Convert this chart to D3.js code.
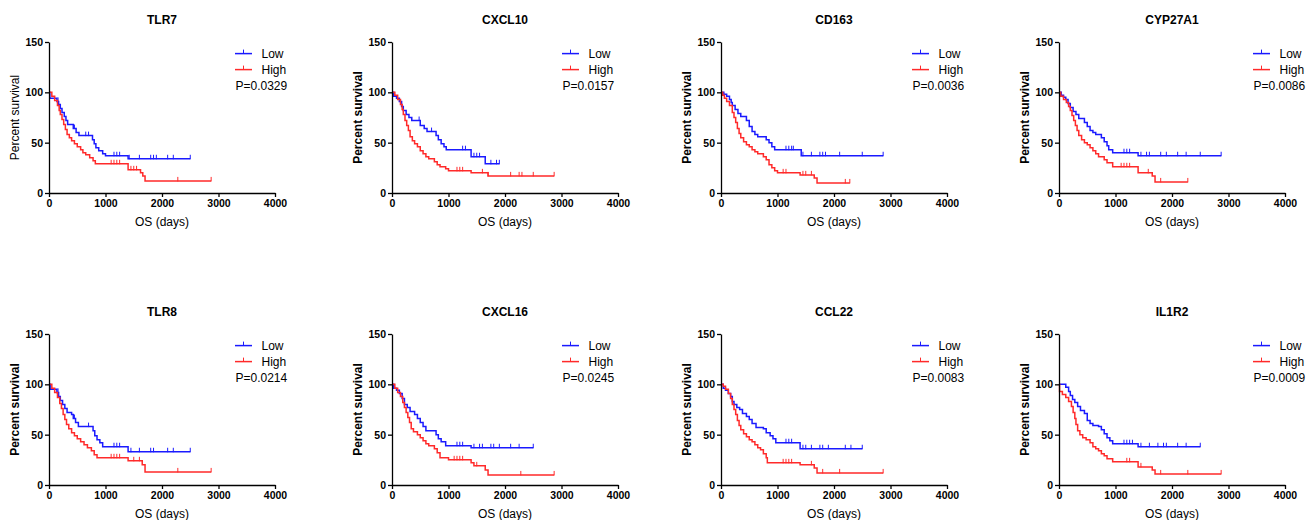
<!DOCTYPE html>
<html>
<head>
<meta charset="utf-8">
<script src="https://cdn.jsdelivr.net/npm/d3@7"></script>
<style>
  body { margin: 0; background: #fff; }
  text { font-family: Arial, "Liberation Sans", sans-serif; fill: #000; }
</style>
</head>
<body>
<svg width="1314" height="520"></svg>
<script>
// Panel titles, p values and axis ticks
var genes = ["TLR7", "CXCL10", "CD163", "CYP27A1", "TLR8", "CXCL16", "CCL22", "IL1R2"]
var pLabels = ["P=0.0329", "P=0.0157", "P=0.0036", "P=0.0086", "P=0.0214", "P=0.0245", "P=0.0083", "P=0.0009"]
var groups = ["Low", "High"]
var xTicks = [0, 1000, 2000, 3000, 4000]
var yTicks = [0, 50, 100, 150]

// Kaplan-Meier steps [days, percent survival]
var tlr7Low = [[0,100],[15,94],[140,91],[170,88],[200,84],[230,80],[270,76],[300,72],[330,68],[400,68],[430,64],[480,60],[530,57],[750,57],[770,53],[800,49],[830,45],[880,42],[950,39],[1000,37],[1400,34],[2500,34]]
var tlr7High = [[0,100],[50,96],[100,92],[150,87],[180,82],[200,78],[230,73],[260,68],[290,63],[320,58],[360,55],[400,52],[450,49],[500,46],[560,43],[600,40],[650,38],[720,35],[780,32],[820,29],[1400,23],[1620,20],[1660,17],[1700,12],[2870,12]]
var tlr7LowCens = [160, 450, 650, 700, 1150, 1200, 1250, 1420, 1600, 1800, 1850, 1900, 2100, 2200, 2500]
var tlr7HighCens = [1100, 1150, 1200, 1250, 1450, 1500, 1550, 2280, 2870]

var cxcl10Low = [[0,100],[30,96],[80,94],[130,91],[170,86],[200,82],[250,78],[300,75],[350,72],[450,72],[500,67],[570,64],[620,61],[750,61],[780,57],[820,53],[870,49],[920,46],[960,43],[1400,36],[1650,29],[1900,29]]
var cxcl10High = [[0,100],[50,97],[100,93],[150,88],[180,83],[200,78],[230,72],[260,67],[290,62],[320,56],[360,52],[400,49],[450,46],[500,42],[550,39],[600,36],[650,34],[750,31],[800,28],[850,26],[950,24],[1000,22],[1400,20],[1700,17],[2870,17]]
var cxcl10LowCens = [480, 700, 1250, 1300, 1450, 1500, 1550, 1750, 1850, 1900]
var cxcl10HighCens = [1150, 1200, 1250, 1600, 1700, 2100, 2250, 2300, 2500, 2870]

var cd163Low = [[0,100],[50,98],[100,96],[150,93],[180,90],[200,87],[250,83],[300,79],[350,76],[450,72],[500,66],[550,61],[600,58],[650,56],[800,53],[850,50],[900,46],[950,43],[1420,37],[2870,37]]
var cd163High = [[0,100],[30,97],[60,94],[100,91],[150,87],[200,80],[230,75],[260,70],[290,64],[320,59],[350,55],[400,51],[450,48],[500,46],[550,43],[600,41],[650,39],[750,36],[800,33],[850,28],[900,25],[950,22],[1000,20],[1400,18],[1650,15],[1700,10],[2280,10]]
var cd163LowCens = [1150, 1200, 1250, 1280, 1450, 1600, 1750, 1800, 1850, 2100, 2500, 2870]
var cd163HighCens = [1100, 1150, 1450, 1500, 1600, 2200, 2280]

var cyp27a1Low = [[0,100],[40,97],[80,95],[120,93],[160,89],[200,85],[250,81],[300,78],[350,74],[450,70],[500,66],[550,62],[600,60],[650,58],[750,55],[800,51],[850,47],[880,43],[950,40],[1400,37],[2870,37]]
var cyp27a1High = [[0,100],[30,96],[80,93],[130,90],[170,86],[200,82],[230,77],[260,72],[290,67],[320,62],[350,57],[400,53],[450,50],[500,48],[550,45],[600,42],[650,39],[700,36],[800,33],[850,30],[950,26],[1400,20],[1650,17],[1700,11],[2280,11]]
var cyp27a1LowCens = [1150, 1200, 1250, 1450, 1550, 1600, 1800, 1900, 2100, 2250, 2500, 2870]
var cyp27a1HighCens = [1100, 1150, 1200, 1250, 1580, 1800, 2280]

var tlr8Low = [[0,100],[20,95],[140,92],[170,88],[200,84],[240,80],[280,76],[320,72],[400,70],[430,66],[470,62],[520,58],[750,58],[780,54],[810,49],[850,45],[900,42],[950,38],[1400,33],[2500,33]]
var tlr8High = [[0,100],[50,96],[100,92],[150,87],[190,81],[220,76],[250,70],[280,65],[310,60],[350,56],[400,52],[450,49],[500,46],[560,43],[620,40],[680,37],[750,34],[800,30],[850,27],[1400,24],[1650,20],[1700,13],[2870,13]]
var tlr8LowCens = [160, 450, 700, 1150, 1200, 1250, 1450, 1600, 1800, 1850, 2100, 2200, 2500]
var tlr8HighCens = [1100, 1150, 1200, 1250, 1500, 1600, 2280, 2870]

var cxcl16Low = [[0,100],[30,96],[80,94],[130,91],[180,86],[220,80],[270,77],[320,73],[400,70],[450,66],[500,62],[550,58],[600,54],[750,54],[780,50],[820,46],[870,43],[950,39],[1400,37],[2500,37]]
var cxcl16High = [[0,100],[50,96],[100,92],[150,88],[190,82],[220,77],[250,72],[280,67],[310,62],[340,56],[380,53],[450,50],[500,47],[550,44],[600,41],[650,39],[750,36],[800,32],[850,27],[1000,25],[1400,22],[1450,19],[1650,15],[1700,10],[2870,10]]
var cxcl16LowCens = [1150, 1200, 1250, 1450, 1550, 1600, 1750, 1800, 1900, 2100, 2250, 2500]
var cxcl16HighCens = [1100, 1150, 1200, 1250, 1500, 2280, 2870]

var ccl22Low = [[0,100],[40,96],[80,94],[130,91],[170,88],[200,83],[230,80],[280,77],[330,75],[380,71],[450,68],[500,65],[550,61],[620,57],[750,56],[800,52],[870,49],[920,46],[970,42],[1400,36],[2500,36]]
var ccl22High = [[0,100],[40,98],[80,95],[130,91],[170,86],[200,80],[230,75],[260,70],[290,64],[320,59],[350,55],[400,51],[450,48],[500,45],[550,43],[600,40],[650,37],[700,35],[750,31],[800,27],[820,22],[1400,20],[1650,17],[1700,12],[2870,12]]
var ccl22LowCens = [1150, 1200, 1250, 1450, 1500, 1600, 1750, 1800, 1900, 2200, 2300, 2500]
var ccl22HighCens = [1100, 1150, 1200, 1250, 1600, 1800, 2100, 2870]

var il1r2Low = [[0,100],[120,97],[170,93],[200,89],[240,85],[280,82],[330,78],[380,74],[450,71],[500,64],[550,61],[600,59],[700,58],[750,55],[800,51],[850,47],[900,44],[950,41],[1400,38],[2500,38]]
var il1r2High = [[0,100],[10,93],[60,90],[120,87],[170,83],[220,78],[250,72],[280,66],[300,60],[330,54],[370,50],[420,47],[480,45],[550,42],[600,38],[650,36],[700,34],[750,31],[800,29],[850,26],[950,23],[1400,18],[1650,15],[1700,11],[2870,11]]
var il1r2LowCens = [1150, 1200, 1250, 1300, 1450, 1600, 1750, 1850, 1900, 2100, 2250, 2500]
var il1r2HighCens = [1200, 1250, 1450, 1800, 2280, 2870]

var curves = [
	[tlr7Low, tlr7High], [cxcl10Low, cxcl10High], [cd163Low, cd163High], [cyp27a1Low, cyp27a1High],
	[tlr8Low, tlr8High], [cxcl16Low, cxcl16High], [ccl22Low, ccl22High], [il1r2Low, il1r2High]
]
var censors = [
	[tlr7LowCens, tlr7HighCens], [cxcl10LowCens, cxcl10HighCens], [cd163LowCens, cd163HighCens], [cyp27a1LowCens, cyp27a1HighCens],
	[tlr8LowCens, tlr8HighCens], [cxcl16LowCens, cxcl16HighCens], [ccl22LowCens, ccl22HighCens], [il1r2LowCens, il1r2HighCens]
]

// Layout of the 4x2 grid
var panelLeft = [49, 392, 721, 1059],
	panelTop = [42, 334],
	legendDx = [186, 170, 191, 194],
	width = 226,
	height = 151,
	colors = ["#1a1aff", "#ff2a2a"]

var svg = d3.select("svg")

var x = d3.scaleLinear().domain([0, 4000]).range([0, width]),
	y = d3.scaleLinear().domain([0, 150]).range([height, 0])

var line = d3.line()
	.x(function(d) { return x(d[0]) })
	.y(function(d) { return y(d[1]) })
	.curve(d3.curveStepAfter)

// survival value of a step curve at time t
function survivalAt(steps, t) {
	var s = steps[0][1]
	steps.forEach(function(d) { if (d[0] <= t) s = d[1] })
	return s
}

genes.forEach(function(gene, i) {
	var col = i % 4, row = Math.floor(i / 4)
	var g = svg.append("g")
		.attr("transform", "translate(" + panelLeft[col] + "," + panelTop[row] + ")")

	g.append("text")
		.attr("x", width / 2)
		.attr("y", -18)
		.attr("text-anchor", "middle")
		.style("font-size", "12px")
		.style("font-weight", "bold")
		.text(gene)

	// curves and censor ticks
	groups.forEach(function(grp, k) {
		g.append("path")
			.datum(curves[i][k])
			.attr("fill", "none")
			.attr("stroke", colors[k])
			.attr("stroke-width", 1.5)
			.attr("d", line)

		g.selectAll(".cens" + k)
			.data(censors[i][k])
			.enter().append("line")
				.attr("class", "cens" + k)
				.attr("x1", function(d) { return x(d) })
				.attr("x2", function(d) { return x(d) })
				.attr("y1", function(d) { return y(survivalAt(curves[i][k], d)) + 0.5 })
				.attr("y2", function(d) { return y(survivalAt(curves[i][k], d)) - 4 })
				.attr("stroke", colors[k])
				.attr("stroke-width", 1)
	})

	g.append("g")
		.attr("transform", "translate(0," + height + ")")
		.call(d3.axisBottom(x).tickValues(xTicks).tickFormat(d3.format("d"))
			.tickSize(4).tickSizeOuter(0).tickPadding(3))
	g.append("g")
		.call(d3.axisLeft(y).tickValues(yTicks).tickFormat(d3.format("d"))
			.tickSize(4).tickSizeOuter(0).tickPadding(2))

	g.selectAll(".domain, .tick line").attr("stroke", "#000").attr("stroke-width", 1.3)
	g.selectAll(".tick text")
		.style("font-family", "Arial, 'Liberation Sans', sans-serif")
		.style("font-size", "10.5px")
		.style("font-weight", "bold")
		.attr("fill", "#000")

	g.append("text")
		.attr("x", width / 2)
		.attr("y", height + 33)
		.attr("text-anchor", "middle")
		.style("font-size", "12px")
		.text("OS (days)")

	g.append("text")
		.attr("transform", "translate(-30," + (height / 2) + ") rotate(-90)")
		.attr("text-anchor", "middle")
		.style("font-size", "12px")
		.style("font-weight", i == 0 ? "normal" : "bold")
		.text("Percent survival")

	// legend
	var lg = g.append("g").attr("transform", "translate(" + legendDx[col] + ",0)")
	groups.forEach(function(grp, k) {
		var ly = 11.6 + k * 16
		lg.append("line")
			.attr("x1", 0).attr("x2", 17).attr("y1", ly).attr("y2", ly)
			.attr("stroke", colors[k]).attr("stroke-width", 1.5)
		lg.append("line")
			.attr("x1", 8.5).attr("x2", 8.5).attr("y1", ly).attr("y2", ly - 4)
			.attr("stroke", colors[k]).attr("stroke-width", 1)
		lg.append("text")
			.attr("x", 26.5)
			.attr("y", ly + 4)
			.style("font-size", "12px")
			.text(grp)
	})
	lg.append("text")
		.attr("x", 0.5)
		.attr("y", 48.3)
		.style("font-size", "12px")
		.text(pLabels[i])
})
</script>
</body>
</html>
